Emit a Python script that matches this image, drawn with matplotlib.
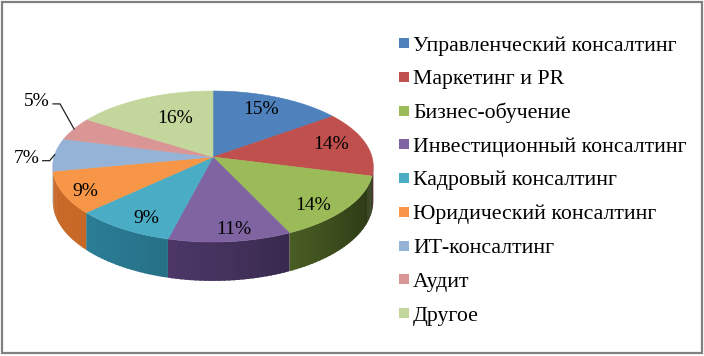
import numpy as np
import matplotlib
matplotlib.use("Agg")
import matplotlib.pyplot as plt
from matplotlib.patches import Polygon, Rectangle
from matplotlib.colors import to_rgb

# ---- data ----
categories = ["Управленческий консалтинг", "Маркетинг и PR", "Бизнес-обучение",
              "Инвестиционный консалтинг", "Кадровый консалтинг", "Юридический консалтинг",
              "ИТ-консалтинг", "Аудит", "Другое"]
values = [15, 14, 14, 11, 9, 9, 7, 5, 16]
labels = ["15%", "14%", "14%", "11%", "9%", "9%", "7%", "5%", "16%"]
colors = ["#4F81BD", "#C0504D", "#9BBB59", "#8064A2", "#4BACC6", "#F79646",
          "#95B3D7", "#D99694", "#C3D69B"]

# ---- layout (pixels, y downward) ----
W, H = 704, 356
cx, cy0 = 213.0, 157.0
A, B, K = 159.0, 74.3, 0.126
D = 34.0
SERIF = "Liberation Serif"
LABEL_NUDGE = [(-1, -2), (5, -2), (4, 11), (9, 12), (-2, 10), (-18, 8),
               (0, 0), (0, 0), (14, 6)]
OUTSIDE = {6: (-5, 6), 7: (-14, -25)}

fig = plt.figure(figsize=(W / 100, H / 100), dpi=100)
ax = fig.add_axes([0, 0, 1, 1])
ax.set_xlim(0, W)
ax.set_ylim(H, 0)
ax.axis("off")


def proj(theta_deg, r=1.0, depth=0.0):
    t = np.radians(theta_deg)
    u = r * np.sin(t)
    v = r * np.cos(t)
    w = 1 + K * v
    return cx + A * u / w, cy0 - B * v / w + depth / w


def side_color(c, theta):
    rgb = np.array(to_rgb(c)) ** 1.3
    f = 0.52 + 0.3 * np.cos(np.radians(theta - 240))
    return np.clip(rgb * f, 0, 1)


total = float(sum(values))
bounds = np.concatenate([[0], np.cumsum(values)]) / total * 360.0

# side faces (shaded strips, slightly overlapping to avoid seams)
smin = np.degrees(np.arccos(-K))
smax = 360 - smin
for i, c in enumerate(colors):
    a0, a1 = max(bounds[i], smin), min(bounds[i + 1], smax)
    if a1 <= a0:
        continue
    n = max(2, int((a1 - a0) / 1.5) + 1)
    edges = np.linspace(a0, a1, n)
    for j, (t0, t1) in enumerate(zip(edges[:-1], edges[1:])):
        t1e = min(t1 + 0.6, a1)
        ts = np.linspace(t0, t1e, 3)
        top = [proj(t) for t in ts]
        bot = [proj(t, depth=D) for t in ts[::-1]]
        col = side_color(c, (t0 + t1) / 2)
        ax.add_patch(Polygon(top + bot, closed=True, facecolor=col,
                             edgecolor="none", linewidth=0))

# top faces
for i, c in enumerate(colors):
    ts = np.linspace(bounds[i], bounds[i + 1], 80)
    pts = [proj(0, r=0)] + [proj(t) for t in ts]
    ax.add_patch(Polygon(pts, closed=True, facecolor=c, edgecolor=c,
                         linewidth=0.4))

# data labels
for i, lab in enumerate(labels):
    mid = (bounds[i] + bounds[i + 1]) / 2
    if i in OUTSIDE:
        ex, ey = proj(mid)
        dx, dy = OUTSIDE[i]
        bx, by = ex + dx, ey + dy
        ax.plot([ex, bx, bx - 7], [ey, by, by], color="#222222", lw=0.9)
        ax.text(bx - 10, by + 2, lab, ha="right", va="baseline",
                fontsize=14, family=SERIF, color="black")
    else:
        x, y = proj(mid, r=0.74)
        nx, ny = LABEL_NUDGE[i]
        ax.text(x + nx, y + ny, lab, ha="center", va="center", fontsize=14,
                family=SERIF, color="black")

# legend
for i, (name, c) in enumerate(zip(categories, colors)):
    yc = 43 + 33.75 * i
    ax.add_patch(Rectangle((399, yc - 5), 10, 10, facecolor=c, edgecolor="none"))
    ax.text(413, yc + 7.5, name, ha="left", va="baseline", fontsize=15.7,
            family=SERIF, color="black")

# frame
ax.add_patch(Rectangle((2, 2), 699.5, 350.5, facecolor="none",
                       edgecolor="#808080", linewidth=1.6))

fig.savefig("out.png", dpi=100)
